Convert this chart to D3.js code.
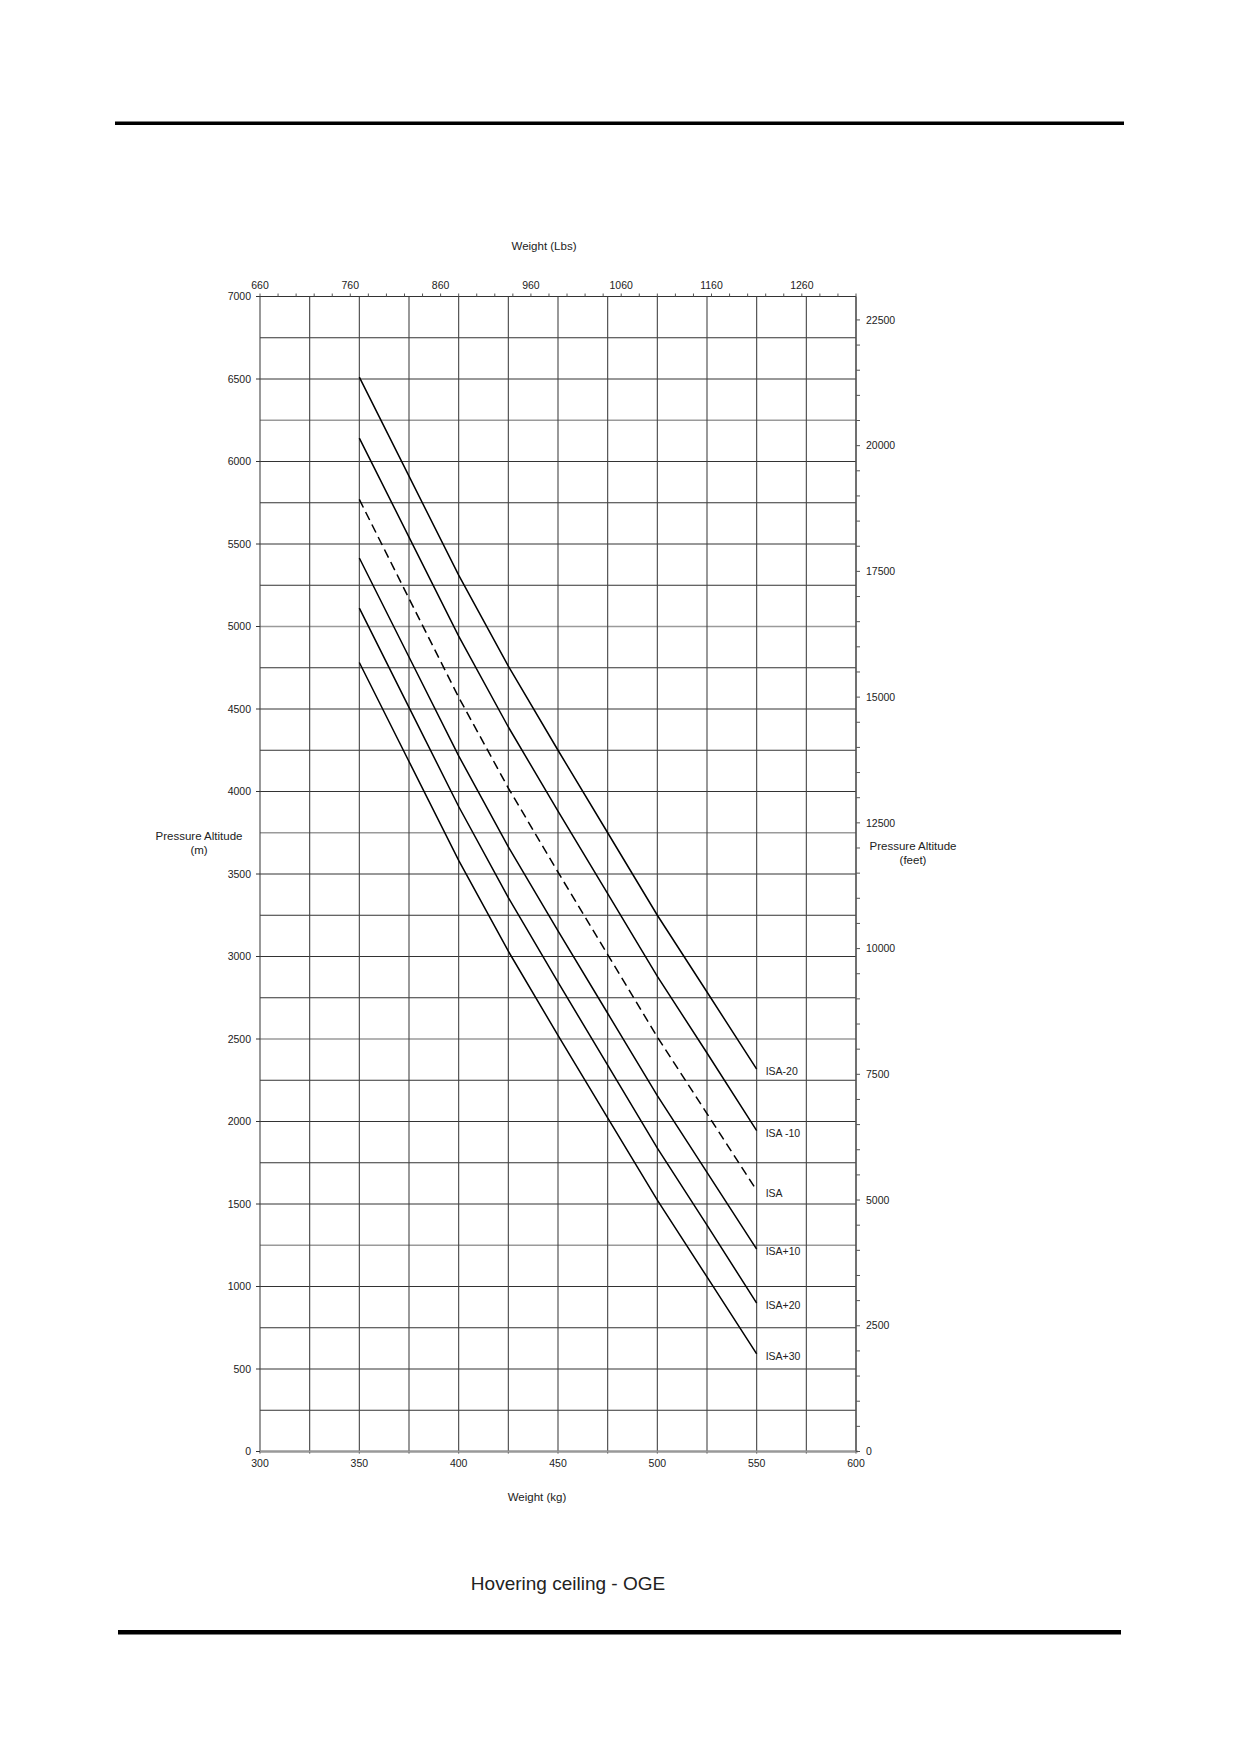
<!DOCTYPE html>
<html>
<head>
<meta charset="utf-8">
<script src="https://cdn.jsdelivr.net/npm/d3@7"></script>
<style>
  html, body { margin: 0; padding: 0; background: #fff; }
  svg { display: block; }
  text { font-family: "Liberation Sans", Arial, sans-serif; fill: #222; }
</style>
</head>
<body>
<svg id="chart" width="1239" height="1752"></svg>
<script>
// ---------- DATA ----------
const weightsKg = [350, 375, 400, 425, 450, 475, 500, 525, 550];
const isaMinus20 = [6511, 5911, 5311, 4760, 4250, 3750, 3250, 2785, 2317];
const isaMinus10 = [6142, 5542, 4942, 4391, 3881, 3381, 2880, 2415, 1945];
const isa        = [5770, 5170, 4571, 4021, 3511, 3012, 2512, 2048, 1582];
const isaPlus10  = [5415, 4815, 4216, 3665, 3156, 2656, 2157, 1692, 1226];
const isaPlus20  = [5111, 4510, 3909, 3357, 2844, 2342, 1839, 1372, 899];
const isaPlus30  = [4782, 4182, 3583, 3032, 2522, 2022, 1523, 1058, 592];
const seriesNames = ["ISA-20", "ISA -10", "ISA", "ISA+10", "ISA+20", "ISA+30"];
const seriesDashed = [false, false, true, false, false, false];

const kgTicks = [300, 350, 400, 450, 500, 550, 600];
const kgGrid = [300, 325, 350, 375, 400, 425, 450, 475, 500, 525, 550, 575, 600];
const lbsTicks = [660, 760, 860, 960, 1060, 1160, 1260];
const meterTicks = [0, 500, 1000, 1500, 2000, 2500, 3000, 3500, 4000, 4500, 5000, 5500, 6000, 6500, 7000];
const feetTicks = [0, 2500, 5000, 7500, 10000, 12500, 15000, 17500, 20000, 22500];

const title = "Hovering ceiling - OGE";
const xTitleBottom = "Weight (kg)";
const xTitleTop = "Weight (Lbs)";
const yTitleLeft = ["Pressure Altitude", "(m)"];
const yTitleRight = ["Pressure Altitude", "(feet)"];

// ---------- LAYOUT ----------
const svg = d3.select("#chart");
const L = 260, R = 856, T = 296.5, B = 1451.5;
const x = d3.scaleLinear().domain([300, 600]).range([L, R]);
const y = d3.scaleLinear().domain([0, 7000]).range([B, T]);
const xLbs = d3.scaleLinear().domain([660, 1320]).range([L, R]);
const yFt = d3.scaleLinear().domain([0, 7000 * 3.28084]).range([B, T]);

// page rules
svg.append("rect").attr("x", 115).attr("y", 121.5).attr("width", 1009).attr("height", 3.5).attr("fill", "#000");
svg.append("rect").attr("x", 118).attr("y", 1630).attr("width", 1003).attr("height", 4.5).attr("fill", "#000");

// horizontal gridlines every 250 m
const hGrid = d3.range(0, 7001, 250);
svg.append("g").selectAll("line").data(hGrid).join("line")
  .attr("x1", L).attr("x2", R)
  .attr("y1", d => y(d)).attr("y2", d => y(d))
  .attr("stroke", d => (d % 1250 === 0 && d !== 0) ? "#9a9a9a" : "#333")
  .attr("stroke-width", d => (d % 1250 === 0) ? 1.6 : 1);

// vertical gridlines
svg.append("g").selectAll("line").data(kgGrid).join("line")
  .attr("x1", d => x(d)).attr("x2", d => x(d))
  .attr("y1", T).attr("y2", B + 2)
  .attr("stroke", "#444").attr("stroke-width", 1.1);

// bottom axis line (gray, thicker)
svg.append("line").attr("x1", L).attr("x2", R + 2).attr("y1", B).attr("y2", B)
  .attr("stroke", "#999").attr("stroke-width", 1.8);

// left axis ticks and labels
const gl = svg.append("g");
gl.selectAll("line").data(meterTicks).join("line")
  .attr("x1", L - 4).attr("x2", L).attr("y1", d => y(d)).attr("y2", d => y(d))
  .attr("stroke", "#333");
gl.selectAll("text").data(meterTicks).join("text")
  .attr("x", L - 9).attr("y", d => y(d)).attr("dy", "0.35em")
  .attr("text-anchor", "end").attr("font-size", 10.5).text(d => d);

// right axis (feet)
const gr = svg.append("g");
gr.append("line").attr("x1", R).attr("x2", R).attr("y1", T).attr("y2", B)
  .attr("stroke", "#555").attr("stroke-width", 1.2);
gr.selectAll("line.mt").data(d3.range(0, 22501, 500)).join("line").attr("class", "mt")
  .attr("x1", R).attr("x2", R + 4).attr("y1", d => yFt(d)).attr("y2", d => yFt(d))
  .attr("stroke", "#555");
gr.selectAll("text").data(feetTicks).join("text")
  .attr("x", R + 10).attr("y", d => yFt(d)).attr("dy", "0.35em")
  .attr("text-anchor", "start").attr("font-size", 10.5).text(d => d);

// bottom axis labels
svg.append("g").selectAll("text").data(kgTicks).join("text")
  .attr("x", d => x(d)).attr("y", B + 15)
  .attr("text-anchor", "middle").attr("font-size", 10.5).text(d => d);

// top axis (lbs)
const gt = svg.append("g");
gt.selectAll("line").data(d3.range(660, 1321, 20)).join("line")
  .attr("x1", d => xLbs(d)).attr("x2", d => xLbs(d))
  .attr("y1", T).attr("y2", T - 3).attr("stroke", "#555");
gt.selectAll("text").data(lbsTicks).join("text")
  .attr("x", d => xLbs(d)).attr("y", T - 8)
  .attr("text-anchor", "middle").attr("font-size", 10.5).text(d => d);

// axis titles
svg.append("text").attr("x", 544).attr("y", 250).attr("text-anchor", "middle")
  .attr("font-size", 11.5).text(xTitleTop);
svg.append("text").attr("x", 537).attr("y", 1501).attr("text-anchor", "middle")
  .attr("font-size", 11.5).text(xTitleBottom);
svg.append("text").attr("text-anchor", "middle").attr("font-size", 11.5)
  .selectAll("tspan").data(yTitleLeft).join("tspan")
  .attr("x", 199).attr("y", (d, i) => 840 + i * 14).text(d => d);
svg.append("text").attr("text-anchor", "middle").attr("font-size", 11.5)
  .selectAll("tspan").data(yTitleRight).join("tspan")
  .attr("x", 913).attr("y", (d, i) => 850 + i * 14).text(d => d);

// curves
const allSeries = [isaMinus20, isaMinus10, isa, isaPlus10, isaPlus20, isaPlus30];
const line = d3.line().x(d => x(d[0])).y(d => y(d[1]));
const gc = svg.append("g");
allSeries.forEach((vals, i) => {
  const pts = weightsKg.map((w, j) => [w, vals[j]]);
  gc.append("path").attr("d", line(pts))
    .attr("fill", "none").attr("stroke", "#000").attr("stroke-width", 1.5)
    .attr("stroke-dasharray", seriesDashed[i] ? "9,5" : null);
  gc.append("text")
    .attr("x", x(550) + 9).attr("y", y(vals[vals.length - 1]) + 2.5).attr("dy", "0.35em")
    .attr("font-size", 10.5).text(seriesNames[i]);
});

// title
svg.append("text").attr("x", 568).attr("y", 1590).attr("text-anchor", "middle")
  .attr("font-size", 19).attr("fill", "#111").text(title);
</script>
</body>
</html>
